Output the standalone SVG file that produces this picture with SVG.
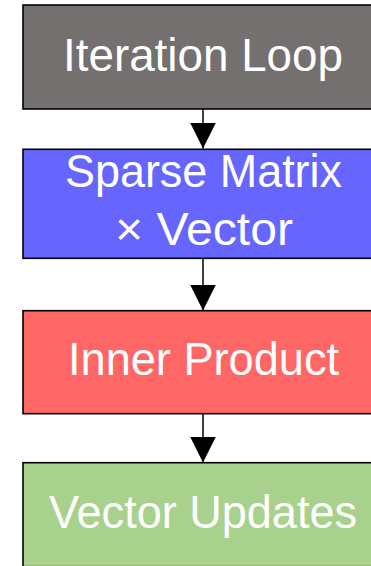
<svg xmlns="http://www.w3.org/2000/svg" width="371" height="566" viewBox="0 0 371 566">
<style>
.box{stroke:#000;stroke-width:1.6}
.lbl{font-family:"Liberation Sans",Arial,sans-serif;font-size:46px;fill:#fff;text-anchor:middle}
.conn{stroke:#000;stroke-width:1.5;fill:none}
</style>
<defs>
<marker id="ah" markerUnits="userSpaceOnUse" markerWidth="26" markerHeight="27" refX="26" refY="13" orient="auto" viewBox="0 0 26 26">
<path d="M0,0 L26,13 L0,26 Z" fill="#000"/>
</marker>
</defs>
<rect width="371" height="566" fill="#fff"/>
<g id="connectors">
<line class="conn" x1="203" y1="109" x2="203" y2="148.5" marker-end="url(#ah)"/>
<line class="conn" x1="203" y1="258.5" x2="203" y2="310.5" marker-end="url(#ah)"/>
<line class="conn" x1="203" y1="413.5" x2="203" y2="462.5" marker-end="url(#ah)"/>
</g>
<g id="node-iteration-loop">
<rect class="box" x="23" y="5" width="360" height="104" fill="#757070"/>
<text class="lbl" x="203" y="70.7" textLength="280" lengthAdjust="spacingAndGlyphs">Iteration Loop</text>
</g>
<g id="node-spmv">
<rect class="box" x="23" y="149.3" width="360" height="109" fill="#6666ff"/>
<text class="lbl" x="203.5" y="186.7" textLength="277" lengthAdjust="spacingAndGlyphs">Sparse Matrix</text>
<text class="lbl" x="204" y="245" textLength="178" lengthAdjust="spacingAndGlyphs">× Vector</text>
</g>
<g id="node-inner-product">
<rect class="box" x="23" y="310.7" width="360" height="103" fill="#ff6666"/>
<text class="lbl" x="203.5" y="375" textLength="271" lengthAdjust="spacingAndGlyphs">Inner Product</text>
</g>
<g id="node-vector-updates">
<rect class="box" x="23" y="462.7" width="360" height="104" fill="#a9d18e"/>
<text class="lbl" x="203" y="527.7" textLength="308" lengthAdjust="spacingAndGlyphs">Vector Updates</text>
</g>
</svg>
